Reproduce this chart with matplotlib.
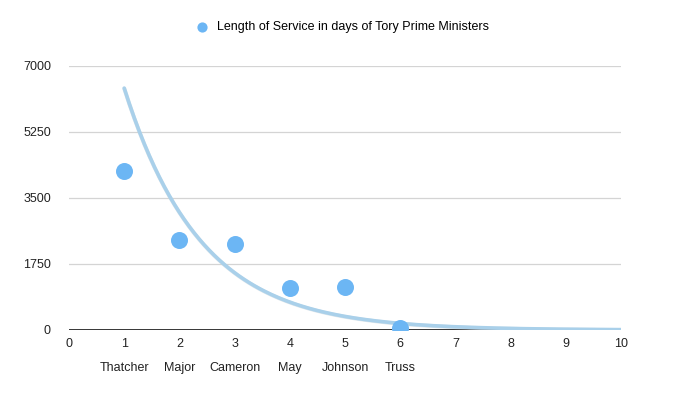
"""Scatter of Tory PM tenure with an exponential trendline."""

import numpy as np
import matplotlib
matplotlib.use("Agg")
import matplotlib.pyplot as plt

plt.rcParams["font.family"] = ["Liberation Sans", "DejaVu Sans"]

# Data
pm_names = ["Thatcher", "Major", "Cameron", "May", "Johnson", "Truss"]
pm_index = [1, 2, 3, 4, 5, 6]
days_served = [4227, 2375, 2275, 1106, 1139, 49]

y_ticks = [0, 1750, 3500, 5250, 7000]
x_ticks = list(range(0, 11))

dot_color = "#6cb6f4"
trend_color = "#a9d0ea"

fig = plt.figure(figsize=(6.93, 3.97), dpi=100)
ax = fig.add_axes([0.0996, 0.1688, 0.7966, 0.665])

# Exponential trendline fitted to the points (like the spreadsheet does)
b, ln_a = np.polyfit(pm_index, np.log(days_served), 1)
xs = np.linspace(1, 10, 200)
ax.plot(xs, np.exp(ln_a + b * xs) - 10, color="#c9d6de", lw=2.8,
        alpha=0.6, zorder=2, solid_capstyle="round")
ax.plot(xs, np.exp(ln_a + b * xs), color=trend_color, lw=2.6,
        zorder=3, solid_capstyle="round")

ax.scatter(pm_index, days_served, s=150, color=dot_color, zorder=4,
           linewidths=0, label="Length of Service in days of Tory Prime Ministers")

ax.set_xlim(0, 10)
ax.set_ylim(0, 7000)
ax.set_yticks(y_ticks)
ax.set_xticks(x_ticks)
ax.tick_params(length=0, labelsize=9, colors="#222222")
ax.tick_params(axis="y", pad=13)
ax.tick_params(axis="x", pad=6)

for yv in y_ticks[1:]:
    ax.axhline(yv, color="#d4d4d4", lw=0.9, zorder=1)
ax.axhline(0, color="black", lw=1.1, zorder=1)

for spine in ax.spines.values():
    spine.set_visible(False)

for xi, name in zip(pm_index, pm_names):
    ax.text(xi, -1000, name, ha="center", va="center", fontsize=9,
            color="#222222", clip_on=False)

fig.legend(loc="center", bbox_to_anchor=(0.49, 0.932), frameon=False,
           fontsize=9, handletextpad=0.2, markerscale=0.6)

fig.savefig("out.png", dpi=100)
